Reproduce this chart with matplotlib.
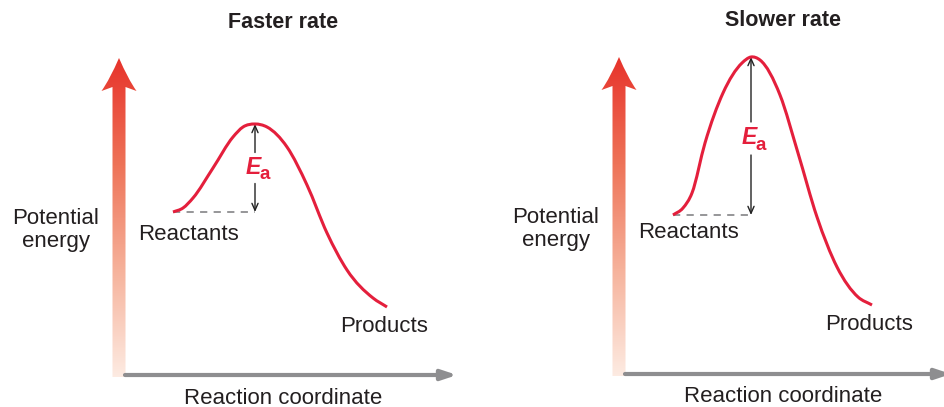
import numpy as np
import matplotlib
matplotlib.use("Agg")
import matplotlib.pyplot as plt
from matplotlib.path import Path
from matplotlib.patches import PathPatch
from matplotlib.colors import LinearSegmentedColormap

plt.rcParams['font.family'] = ['Liberation Sans', 'DejaVu Sans']

titles = ['Faster rate', 'Slower rate']

# energy profiles (reaction coordinate, potential energy)
fast_x = [54, 64, 74, 94, 114, 124, 136, 148, 168, 188, 208, 228, 254, 268]
fast_y = [163, 167, 177, 207, 238, 248, 251, 248, 228, 190, 142, 105, 77, 68]
slow_x = [54, 64, 73, 86, 104, 123, 132, 141, 161, 179, 198, 218, 239, 253]
slow_y = [159, 166, 181, 231, 281, 311, 317, 314, 279, 221, 157, 107, 77, 69]

curves = [(fast_x, fast_y), (slow_x, slow_y)]

red = '#e41f3c'
grey = '#8e8e90'
text_c = '#231f20'
cmap = LinearSegmentedColormap.from_list('pe', ['#fdebe2', '#f6b29b', '#ee7358', '#e7332b'])


def smooth_path(xs, ys):
    # cubic Hermite segments through the read points, as Bezier curves
    x = np.asarray(xs, float)
    y = np.asarray(ys, float)
    m = np.gradient(y, x)
    verts = [(x[0], y[0])]
    codes = [Path.MOVETO]
    for k in range(len(x) - 1):
        d = (x[k + 1] - x[k]) / 3
        verts += [(x[k] + d, y[k] + d * m[k]),
                  (x[k + 1] - d, y[k + 1] - d * m[k + 1]),
                  (x[k + 1], y[k + 1])]
        codes += [Path.CURVE4] * 3
    return Path(verts, codes)


fig = plt.figure(figsize=(9.44, 4.07), dpi=100)
origins = [(119, 375), (619, 374)]
arrow_end = [338, 332]
label_mid = [207.5, 236]
gaps = [(15, 16), (16, 17)]

for i, (cx, cy) in enumerate(curves):
    ox, oy = origins[i]
    ax = fig.add_axes([i * 0.5, 0, 0.5, 1])
    ax.set_xlim(i * 472 - ox, i * 472 + 472 - ox)
    ax.set_ylim(oy - 407, oy)
    ax.axis('off')

    # gradient energy arrow
    verts = [(-6.5, -2), (-6.5, 288), (-17.5, 284), (-9, 296), (0, 317),
             (9, 296), (17.5, 284), (6.5, 288), (6.5, -2), (-6.5, -2)]
    codes = [Path.MOVETO, Path.LINETO, Path.LINETO, Path.CURVE3, Path.CURVE3,
             Path.CURVE3, Path.CURVE3, Path.LINETO, Path.LINETO, Path.CLOSEPOLY]
    patch = PathPatch(Path(verts, codes), facecolor='none', edgecolor='none')
    ax.add_patch(patch)
    grad = np.linspace(0, 1, 256).reshape(-1, 1)
    im = ax.imshow(grad, cmap=cmap, origin='lower', extent=(-18, 18, -2, 317),
                   aspect='auto', zorder=2)
    im.set_clip_path(patch)

    # reaction coordinate arrow
    ax.annotate('', xy=(arrow_end[i], 0), xytext=(6, 0), annotation_clip=False,
                arrowprops=dict(arrowstyle='-|>,head_length=0.9,head_width=0.3',
                                color=grey, lw=3, shrinkA=0, shrinkB=0))

    # curve
    ax.add_patch(PathPatch(smooth_path(cx, cy), facecolor='none', edgecolor=red,
                           lw=2.2, capstyle='butt', zorder=4))

    peak = int(np.argmax(cy))
    px, py = cx[peak], cy[peak]
    bx, by = cx[0], cy[0]
    ax.plot([bx, px], [by, by], color=grey, lw=1.3, ls=(0, (4, 3.5)), zorder=3)

    mid = label_mid[i]
    g_up, g_dn = gaps[i]
    ax.annotate('', xy=(px, py), xytext=(px, mid + g_up),
                arrowprops=dict(arrowstyle='->,head_length=0.5,head_width=0.22',
                                color='#222222', lw=1.0, shrinkA=0, shrinkB=0))
    ax.annotate('', xy=(px, by), xytext=(px, mid - g_dn),
                arrowprops=dict(arrowstyle='->,head_length=0.5,head_width=0.22',
                                color='#222222', lw=1.0, shrinkA=0, shrinkB=0))
    ax.text(px + 6, mid, 'E', color=red, fontsize=16.5, ha='right',
            va='center', fontweight='bold', style='italic')
    ax.text(px + 5, mid - 7, 'a', color=red, fontsize=13.5, ha='left',
            va='center', fontweight='bold')

    fs = 16
    ax.text(70, 141, 'Reactants', fontsize=fs, ha='center', va='center', color=text_c)
    ax.text(cx[-1] - 3, 49, 'Products', fontsize=fs, ha='center', va='center', color=text_c)
    ax.text(-63, 145, 'Potential\nenergy', fontsize=fs, ha='center', va='center',
            color=text_c, linespacing=1.12)
    ax.text(164, -23, 'Reaction coordinate', fontsize=fs, ha='center', va='center', color=text_c)
    ax.text(164, 353, titles[i], fontsize=15.5, ha='center', va='center',
            fontweight='bold', color=text_c)

fig.savefig('out.png', dpi=100)
